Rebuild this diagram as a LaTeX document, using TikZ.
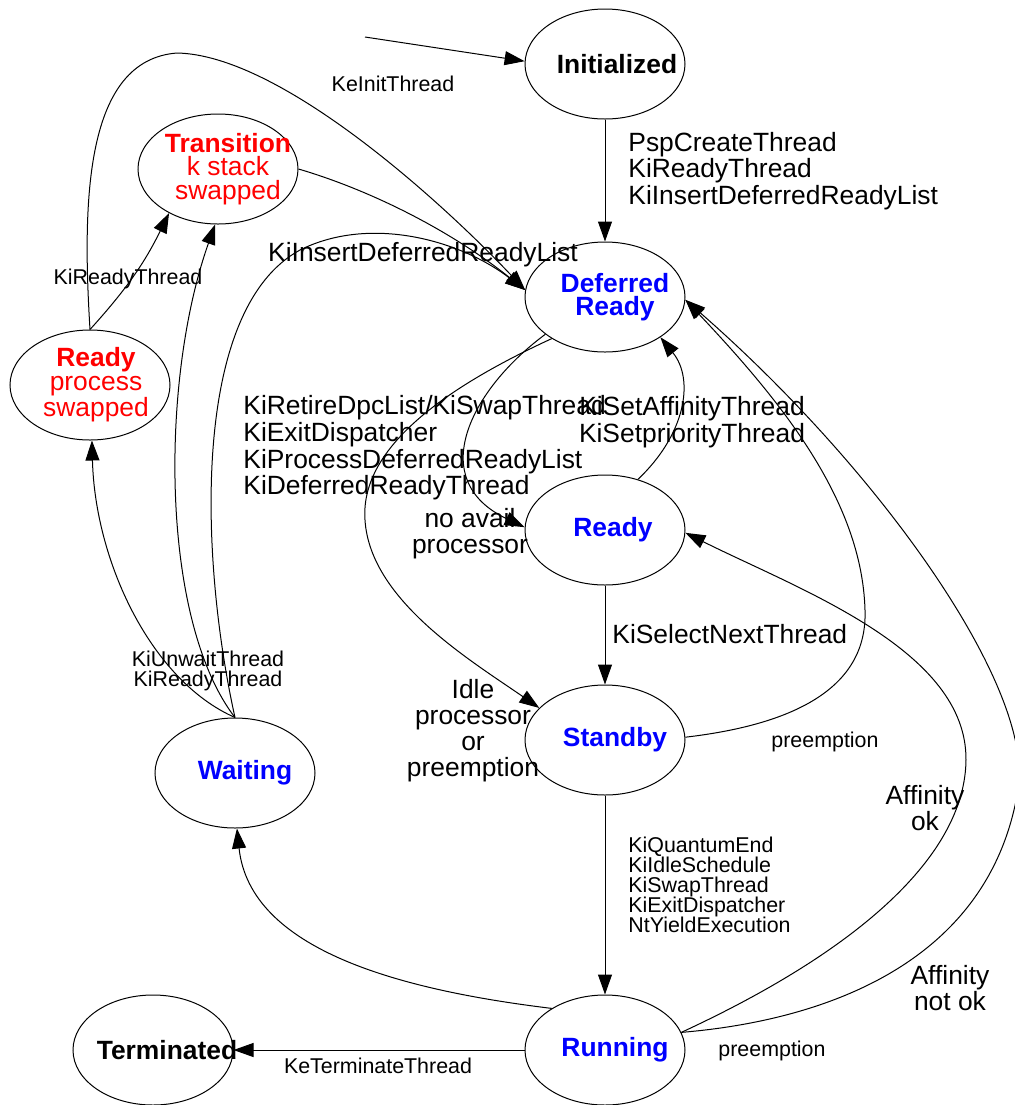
\documentclass[tikz,border=0pt]{standalone}
\usepackage{fontspec}
\setmainfont{Liberation Sans}
\usetikzlibrary{shapes.geometric,arrows.meta}

\newcommand{\stfont}{\fontsize{13.2}{11.75}\selectfont}
\newcommand{\bigfont}{\fontsize{13.2}{11.25}\selectfont}
\newcommand{\wbigfont}{\fontsize{13.2}{13}\selectfont}
\newcommand{\smfont}{\fontsize{10.7}{10}\selectfont}

\begin{document}
\begin{tikzpicture}[x=0.5pt, y=-0.5pt,
  st/.style={draw, ellipse, line width=0.5pt, minimum width=80pt, minimum height=55pt, inner sep=0pt},
  sttxt/.style={inner sep=0pt, align=center, font=\stfont},
  arr/.style={line width=0.5pt, -{Triangle[length=10pt,width=7pt]}},
  lbl/.style={inner sep=0pt, align=left, font=\bigfont},
  clbl/.style={inner sep=0pt, align=center, font=\wbigfont},
  slbl/.style={inner sep=0pt, align=left, font=\smfont}]
\useasboundingbox (0,0) rectangle (1014,1105);

% States
\node[st] (init) at (605,64) {};
\node[st] (dready) at (605,297) {};
\node[st] (ready) at (605,530) {};
\node[st] (stby) at (605,740) {};
\node[st] (run) at (605,1050) {};
\node[st] (term) at (153,1050) {};
\node[st] (wait) at (235,773) {};
\node[st] (rdy) at (90,385) {};
\node[st] (trans) at (218,169) {};
\coordinate (start) at (365,37);

% State texts (set a little right of centre)
\node[sttxt] (init-t) at ([xshift=6pt]init.center) {\bfseries Initialized};
\node[sttxt, text=blue] (dready-t) at ([xshift=5pt]dready.center) {\bfseries Deferred\\\bfseries Ready};
\node[sttxt, text=blue] (ready-t) at ([xshift=4pt]ready.center) {\bfseries Ready};
\node[sttxt, text=blue] (stby-t) at ([xshift=5pt]stby.center) {\bfseries Standby};
\node[sttxt, text=blue] (run-t) at ([xshift=5pt]run.center) {\bfseries Running};
\node[sttxt] (term-t) at ([xshift=7pt]term.center) {\bfseries Terminated};
\node[sttxt, text=blue] (wait-t) at ([xshift=5pt]wait.center) {\bfseries Waiting};
\node[sttxt, text=red] (rdy-t) at ([xshift=3pt]rdy.center) {\bfseries Ready\\process\\swapped};
\node[sttxt, text=red] (trans-t) at ([xshift=5pt]trans.center) {\bfseries Transition\\k stack\\swapped};

% Transitions
\draw[arr] (start) -- (init.178);
\draw[arr] (init) -- (dready);
\draw[arr] (trans.0) .. controls (370,190) and (450,230) .. (dready.175);
\draw[arr] (rdy.north) .. controls (82,200) and (85,60) .. (177,53)
  .. controls (280,55) and (440,200) .. (dready.175);
\draw[arr] (rdy.north) to[bend right=8] (trans.-138);
\draw[arr] (wait.north) .. controls (150,680) and (95,560) .. (rdy.-88);
\draw[arr] (wait.north) .. controls (160,620) and (160,380) .. (trans.-93);
\draw[arr] (wait.north) .. controls (200,560) and (190,310) .. (300,250)
  .. controls (370,215) and (460,240) .. (dready.175);
\draw[arr] (dready.212) .. controls (470,390) and (425,480) .. (ready.178);
\draw[arr] (dready.218) .. controls (440,390) and (360,450) .. (365,520)
  .. controls (370,600) and (470,660) .. (stby.154);
\draw[arr] (ready.57) .. controls (685,435) and (695,380) .. (dready.-36);
\draw[arr] (ready) -- (stby);
\draw[arr] (stby.2) .. controls (790,725) and (868,690) .. (865,610)
  .. controls (862,500) and (780,400) .. (dready.-2);
\draw[arr] (stby) -- (run);
\draw[arr] (run.142) .. controls (400,990) and (250,950) .. (wait.-88);
\draw[arr] (run) -- (term);
\draw[arr] (run.13) .. controls (830,1020) and (990,960) .. (1018,790)
  .. controls (1035,688) and (880,470) .. (dready.-2);
\draw[arr] (run.13) .. controls (870,945) and (965,850) .. (966,760)
  .. controls (967,650) and (800,590) .. (ready.-2);

% Labels
\node[slbl] (l-init) at (393,84) {KeInitThread};
\node[lbl, anchor=west] (l-create) at (628,171) {PspCreateThread\\KiReadyThread\\KiInsertDeferredReadyList};
\node[lbl] (l-insert) at (423,255) {KiInsertDeferredReadyList};
\node[slbl] (l-rdyth) at (128,279) {KiReadyThread};
\node[lbl, anchor=west] (l-retire) at (243,448) {KiRetireDpcList/KiSwapThread\\KiExitDispatcher\\KiProcessDeferredReadyList\\KiDeferredReadyThread};
\node[lbl, align=center] (l-affin) at (692,422) {KiSetAffinityThread\\KiSetpriorityThread};
\node[clbl] (l-noavail) at (470,534) {no avail\\processor};
\node[lbl, anchor=west] (l-select) at (612,634) {KiSelectNextThread};
\node[slbl, align=center] (l-unwait) at (208,671) {KiUnwaitThread\\KiReadyThread};
\node[clbl] (l-idle) at (473,731) {Idle\\processor\\or\\preemption};
\node[slbl] (l-pre1) at (825,742) {preemption};
\node[slbl, anchor=west] (l-quantum) at (628,885) {KiQuantumEnd\\KiIdleSchedule\\KiSwapThread\\KiExitDispatcher\\NtYieldExecution};
\node[clbl] (l-affok) at (925,808) {Affinity\\ok};
\node[clbl] (l-affnot) at (950,988) {Affinity\\not ok};
\node[slbl] (l-term) at (378,1066) {KeTerminateThread};
\node[slbl] (l-pre2) at (772,1051) {preemption};
\end{tikzpicture}
\end{document}
